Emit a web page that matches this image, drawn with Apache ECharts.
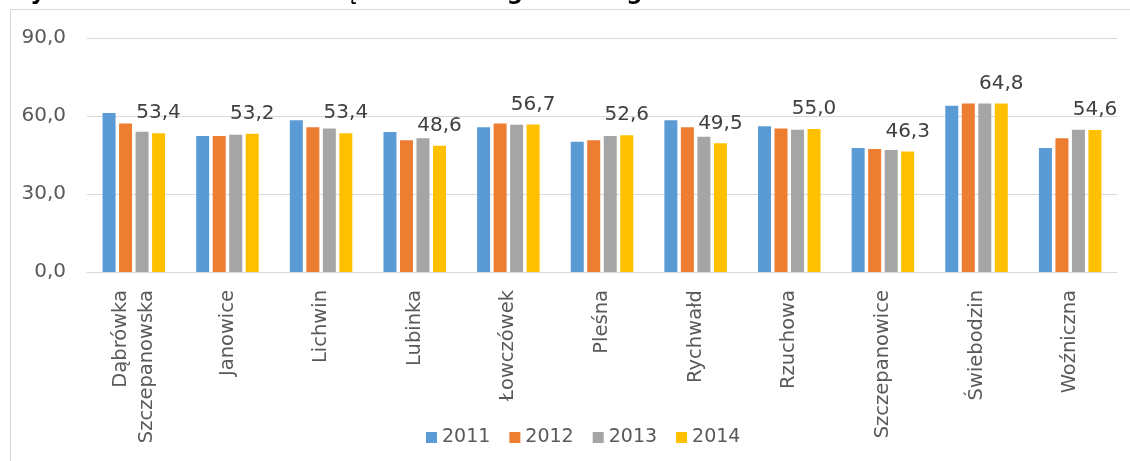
<!DOCTYPE html>
<html>
<head>
<meta charset="utf-8">
<script src="https://cdn.jsdelivr.net/npm/echarts@6/dist/echarts.min.js"></script>
<style>
  html, body { margin: 0; padding: 0; background: #fff; overflow: hidden; }
  #chart { width: 1130px; height: 461px; }
</style>
</head>
<body>
<div id="chart"></div>
<script>
const categories = ['Dąbrówka\nSzczepanowska', 'Janowice', 'Lichwin', 'Lubinka', 'Łowczówek', 'Pleśna', 'Rychwałd', 'Rzuchowa', 'Szczepanowice', 'Świebodzin', 'Woźniczna']
const years = ['2011', '2012', '2013', '2014']
const v2011 = [61.2, 52.3, 58.4, 53.8, 55.7, 50.1, 58.4, 56.1, 47.7, 63.9, 47.7]
const v2012 = [57.1, 52.3, 55.7, 50.7, 57.1, 50.7, 55.7, 55.2, 47.3, 64.8, 51.4]
const v2013 = [53.9, 52.8, 55.2, 51.4, 56.6, 52.3, 52.0, 54.7, 46.9, 64.8, 54.7]
const v2014 = [53.4, 53.2, 53.4, 48.6, 56.7, 52.6, 49.5, 55.0, 46.3, 64.8, 54.6]
const yTicks = [0, 30, 60, 90]
const colors = ['#5B9BD5', '#ED7D31', '#A5A5A5', '#FFC000']
const title = 'Wykres 28. Wskaźnik obciążenia demograficznego'

const font = 'DejaVu Sans'
const comma = v => v.toFixed(1).replace('.', ',')

const chart = echarts.init(document.getElementById('chart'))

const seriesData = [v2011, v2012, v2013, v2014]

const option = {
  animation: false,
  color: colors,
  textStyle: { fontFamily: font },
  graphic: [
    {
      type: 'rect',
      z: -1,
      shape: { x: 10.5, y: 9.5, width: 1200, height: 600 },
      style: { fill: '#fff', stroke: '#d9d9d9', lineWidth: 1 }
    },
    {
      // title is cut off by the top edge in the original
      type: 'text',
      x: 5,
      y: 5,
      style: {
        text: title,
        font: 'bold 23px "DejaVu Sans"',
        fill: '#000',
        verticalAlign: 'bottom'
      }
    }
  ],
  grid: { left: 87, right: 13, top: 38, bottom: 189 },
  legend: {
    data: years,
    left: 421,
    top: 423,
    icon: 'rect',
    itemWidth: 11,
    itemHeight: 11,
    itemGap: 19,
    textStyle: { fontSize: 19, color: '#595959', fontFamily: font }
  },
  xAxis: {
    type: 'category',
    data: categories,
    axisTick: { show: false },
    axisLine: { lineStyle: { color: '#d9d9d9' } },
    axisLabel: {
      interval: 0,
      rotate: 90,
      margin: 18,
      fontSize: 19.5,
      lineHeight: 26,
      color: '#595959',
      fontFamily: font
    }
  },
  yAxis: {
    type: 'value',
    min: yTicks[0],
    max: yTicks[yTicks.length - 1],
    interval: yTicks[1] - yTicks[0],
    axisLine: { show: false },
    axisTick: { show: false },
    splitLine: { lineStyle: { color: '#d9d9d9' } },
    axisLabel: {
      margin: 21,
      fontSize: 20,
      color: '#595959',
      fontFamily: font,
      formatter: comma
    }
  },
  series: years.map((year, i) => ({
    name: year,
    type: 'bar',
    data: seriesData[i],
    barWidth: 13,
    barGap: '27%',
    label: {
      show: i === 3,
      position: 'top',
      distance: 10,
      fontSize: 20,
      color: '#404040',
      fontFamily: font,
      formatter: p => comma(p.value)
    }
  }))
}

chart.setOption(option)
</script>
</body>
</html>
